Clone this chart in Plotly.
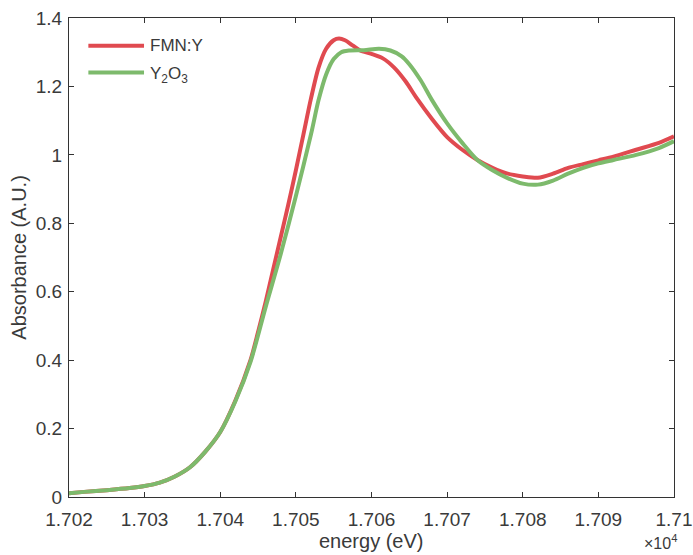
import plotly.graph_objects as go

# ---------------- data ----------------
energy_fmn = [17020, 17022, 17025, 17028, 17030, 17032, 17034, 17036, 17038, 17040,
              17042, 17044, 17045, 17046, 17047, 17048, 17049, 17050, 17051, 17052,
              17053, 17054, 17055, 17055.7, 17056.5, 17057.5, 17058.5, 17060, 17061.5,
              17063, 17064.5, 17066, 17068, 17070, 17072, 17074, 17076, 17078, 17080,
              17082, 17084, 17086, 17088, 17090, 17092, 17095, 17098, 17100]
absorb_fmn = [0.011, 0.015, 0.020, 0.026, 0.032, 0.042, 0.060, 0.087, 0.132, 0.190,
              0.282, 0.400, 0.482, 0.570, 0.665, 0.760, 0.855, 0.955, 1.060, 1.165,
              1.255, 1.310, 1.335, 1.340, 1.335, 1.320, 1.305, 1.295, 1.282,
              1.255, 1.215, 1.165, 1.105, 1.052, 1.015, 0.985, 0.962, 0.945, 0.937,
              0.933, 0.945, 0.962, 0.973, 0.984, 0.995, 1.015, 1.035, 1.054]

energy_y2o3 = [17020, 17022, 17025, 17028, 17030, 17032, 17034, 17036, 17038, 17040,
               17042, 17044, 17046, 17048, 17050, 17052, 17053, 17054, 17055, 17056,
               17057, 17059, 17061, 17062.5, 17064, 17065, 17066.5, 17068, 17070,
               17072, 17074, 17076, 17078, 17080, 17082, 17084, 17086, 17088, 17090,
               17092, 17095, 17098, 17100]
absorb_y2o3 = [0.011, 0.015, 0.020, 0.026, 0.032, 0.042, 0.060, 0.087, 0.132, 0.190,
               0.280, 0.395, 0.555, 0.710, 0.880, 1.060, 1.160, 1.235, 1.280, 1.300,
               1.305, 1.306, 1.310, 1.305, 1.288, 1.265, 1.218, 1.160, 1.092,
               1.035, 0.985, 0.955, 0.932, 0.916, 0.913, 0.925, 0.945, 0.962, 0.975,
               0.985, 1.000, 1.020, 1.040]

x_tickvals = [17020, 17030, 17040, 17050, 17060, 17070, 17080, 17090, 17100]
x_ticktext = ["1.702", "1.703", "1.704", "1.705", "1.706", "1.707", "1.708", "1.709", "1.71"]
y_tickvals = [0, 0.2, 0.4, 0.6, 0.8, 1.0, 1.2, 1.4]
y_ticktext = ["0", "0.2", "0.4", "0.6", "0.8", "1", "1.2", "1.4"]

names = ["FMN:Y", "Y<sub>2</sub>O<sub>3</sub>"]
colors = ["#e04a50", "#7dba6c"]

# ---------------- figure ----------------
FONT = "Liberation Sans, Arial, sans-serif"
TXT = "#3a3a3a"
AX = "#333333"

fig = go.Figure()
fig.add_trace(go.Scatter(x=energy_fmn, y=absorb_fmn, mode="lines", name=names[0],
                         line=dict(color=colors[0], width=4, shape="spline", smoothing=0.8),
                         showlegend=False))
fig.add_trace(go.Scatter(x=energy_y2o3, y=absorb_y2o3, mode="lines", name=names[1],
                         line=dict(color=colors[1], width=4, shape="spline", smoothing=0.8),
                         showlegend=False))

axis_common = dict(showgrid=False, zeroline=False, showline=True, linecolor=AX, linewidth=1.2,
                   mirror="allticks", ticks="inside", ticklen=5, tickcolor=AX, tickwidth=1.2,
                   automargin=False,
                   tickfont=dict(family=FONT, size=19, color=TXT))

fig.update_xaxes(range=[17020, 17100], tickvals=x_tickvals, ticktext=x_ticktext,
                 ticklabelstandoff=5, **axis_common)
fig.update_yaxes(range=[0, 1.4], tickvals=y_tickvals, ticktext=y_ticktext,
                 ticklabelstandoff=2, **axis_common)

annotations = [
    dict(text="energy (eV)", x=0.5, y=-0.0919, xref="paper", yref="paper", yanchor="middle",
         xanchor="center", showarrow=False, font=dict(family=FONT, size=20, color=TXT)),
    dict(text="Absorbance (A.U.)", x=-0.084, y=0.5, xref="paper", yref="paper", textangle=-90,
         xanchor="center", yanchor="middle", showarrow=False,
         font=dict(family=FONT, size=20, color=TXT)),
    dict(text="\u00d710<sup>4</sup>", x=1.006, y=-0.1175, xref="paper", yref="paper",
         xanchor="right", yanchor="bottom", showarrow=False, borderpad=0,
         font=dict(family=FONT, size=16, color=TXT)),
]

# manual legend (no box)
shapes = []
leg_y = [0.942, 0.886]
for i in range(2):
    shapes.append(dict(type="line", xref="paper", yref="paper", x0=0.032, x1=0.124,
                       y0=leg_y[i], y1=leg_y[i], line=dict(color=colors[i], width=4)))
    annotations.append(dict(text=names[i], x=0.131, y=leg_y[i] + (0.0 if i == 0 else -0.004),
                            xref="paper", yref="paper", xanchor="left", yanchor="middle",
                            showarrow=False, font=dict(family=FONT, size=17, color=TXT)))

fig.update_layout(width=693, height=555, margin=dict(l=69, r=19, t=18, b=58),
                  paper_bgcolor="white", plot_bgcolor="white",
                  annotations=annotations, shapes=shapes)

fig.write_html("out.html", config={"displayModeBar": False},
               post_script="document.body.style.margin='0';")
